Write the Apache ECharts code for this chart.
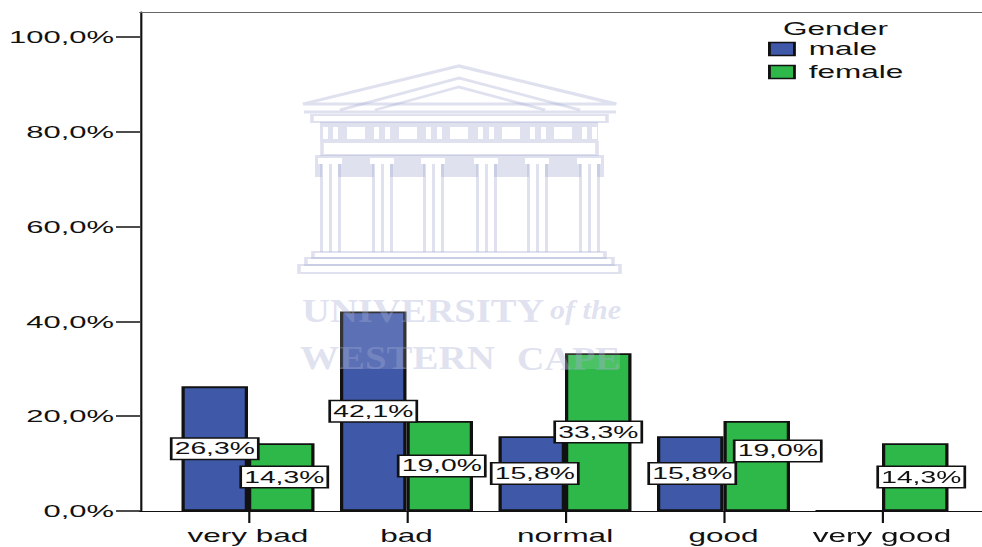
<!DOCTYPE html>
<html><head><meta charset="utf-8">
<script src="https://cdn.jsdelivr.net/npm/echarts@6/dist/echarts.min.js"></script>
<style>html,body{margin:0;padding:0;background:#fff;overflow:hidden}
#c{position:absolute;left:0;top:0;height:547px;transform-origin:0 0}</style>
</head><body><div id="c"></div>
<script>
// data
const categories = ['very bad','bad','normal','good','very good'];
const male = [26.3,42.1,15.8,15.8,0];
const female = [14.3,19.0,33.3,19.0,14.3];
const yTicks = [0,20,40,60,80,100];
const legendTitle = 'Gender';

// the reference is a horizontally stretched picture: draw narrow, stretch the page
const S = 1.8;
const X = px => px / S;
const el = document.getElementById('c');
el.style.width = X(982) + 'px';
el.style.transform = 'scaleX(' + S + ')';
const FONT = '"Liberation Sans", Arial, sans-serif';
const BLUE = '#3f58a8', GREEN = '#2eb84a', INK = '#111';
const yMax = 105.3;

// label shifts [screen px right, px down]
const maleNudge = [[0,0],[0,0],[3,0],[2,0],[0,0]];
const femaleNudge = [[3,0],[2,0],[0,0],[21,-15],[6,0]];

function items(vals, nudges){
  return vals.map((v,i)=>({value:v,label:{show:v>0,offset:[X(nudges[i][0]),nudges[i][1]]}}));
}
function barSeries(name,color,vals,nudges){
  return {type:'bar',name,xAxisIndex:2,yAxisIndex:1,barWidth:X(66.5),barGap:'0%',
    itemStyle:{color,borderColor:INK,borderWidth:1.8},
    label:{show:true,position:'inside',formatter:p=>p.value.toFixed(1).replace('.',',')+'%',
      fontFamily:FONT,fontSize:15.7,lineHeight:16,color:INK,backgroundColor:'#fff',
      borderColor:INK,borderWidth:1.5,padding:[2,1.2,2,1.2]},
    data:items(vals,nudges)};
}

// watermark
const W = 'rgba(165,172,212,0.36)';
const gfx = [];
const R = (x0,y0,x1,y1,fill,stroke)=>gfx.push({type:'rect',silent:true,z:90,
  shape:{x:X(x0),y:y0,width:X(x1-x0),height:y1-y0},
  style:{fill:fill||'none',stroke:stroke||'none',lineWidth:stroke?2:0}});
const L = (pts,w)=>gfx.push({type:'polyline',silent:true,z:91,
  shape:{points:pts.map(p=>[X(p[0]),p[1]])},style:{fill:'none',stroke:W,lineWidth:w||2}});
const T = (t,x,y,font,sx)=>gfx.push({type:'text',silent:true,z:91,x:X(x),y,scaleX:sx,
  style:{text:t,font,fill:W,textVerticalAlign:'top'}});
R(299,65,620,369,'rgba(255,255,255,0.15)');
L([[303,104],[459,66],[616,104],[303,104]],3);
L([[340,110],[459,78],[580,110]],2.5);
L([[375,110],[459,87],[545,110]],2.5);
L([[304,112],[616,112]],3);
R(312,115,607,122,null,W);
R(320,122,598,141,W);
[347,399,450,502,554].forEach(x=>R(x,127,x+18,139,'#fff'));
[323,333,374,385,426,437,478,489,530,541,582,592].forEach(x=>R(x,127,x+5,139,'#fff'));
R(322,142,597,155,null,W);
R(315,155,604,177,W);
const cols = [330,382,433,486,537,589];
cols.forEach(c=>{
  R(c-12,158,c+12,164,'#fff');
  R(c-8,164,c+8,177,'#fff');
  [-10,-1,8].forEach(d=>R(c+d,164,c+d+3,252,W));
});
R(313,252,605,258,null,W);
R(306,258,613,265,null,W);
R(299,265,620,273,null,W);
const SERIF='bold 33px "Liberation Serif", serif';
T('UNIVERSITY',302,294,SERIF,0.65);
T('of the',550,297,'italic bold 27px "Liberation Serif", serif',0.62);
T('WESTERN',300,342,SERIF,0.656);
T('CAPE',517,342,SERIF,0.64);

const frameAxis = (position,color,width)=>({gridIndex:0,type:'value',position,min:0,max:1,
  axisLine:{show:true,onZero:false,lineStyle:{color,width}},axisTick:{show:false},
  axisLabel:{show:false},splitLine:{show:false}});

const chart = echarts.init(el,null,{renderer:'svg',width:X(982),height:547});
chart.setOption({
  animation:false,
  backgroundColor:'#fff',
  title:{text:legendTitle,left:X(783),top:20,padding:0,
    textStyle:{fontFamily:FONT,fontSize:17.5,fontWeight:'normal',color:INK}},
  legend:{left:X(768),top:39.5,padding:0,orient:'vertical',icon:'rect',itemWidth:X(25),itemHeight:13,itemGap:4,
    itemStyle:{borderColor:INK,borderWidth:1.6},
    textStyle:{fontFamily:FONT,fontSize:17.5,color:INK,lineHeight:19,padding:[0,0,0,3]},
    data:['male','female']},
  grid:[
    {left:X(140),width:X(842),top:12,bottom:36,containLabel:false},
    {left:X(168.75),width:X(792.5),top:12,bottom:36,containLabel:false}
  ],
  xAxis:[
    frameAxis('bottom',INK,1.2),
    frameAxis('top','#666',1.2),
    {gridIndex:1,type:'category',data:categories,position:'bottom',
      axisLine:{show:false},
      axisTick:{show:true,alignWithLabel:true,length:12,lineStyle:{color:INK,width:1.2}},
      axisLabel:{margin:16,fontFamily:FONT,fontSize:17.5,color:INK,interval:0}}
  ],
  yAxis:[
    {gridIndex:0,type:'value',min:0,max:yMax,interval:20,position:'left',
      axisLine:{show:true,onZero:false,lineStyle:{color:INK,width:1.2}},
      axisTick:{show:true,length:X(24),customValues:yTicks,lineStyle:{color:INK,width:1.5}},
      axisLabel:{margin:X(26),fontFamily:FONT,fontSize:17.2,color:INK,customValues:yTicks,
        formatter:v=>v.toFixed(1).replace('.',',')+'%'},
      splitLine:{show:false}},
    {gridIndex:1,type:'value',min:0,max:yMax,show:false,splitLine:{show:false}}
  ],
  series:[barSeries('male',BLUE,male,maleNudge),barSeries('female',GREEN,female,femaleNudge)],
  graphic:gfx
});
</script></body></html>
